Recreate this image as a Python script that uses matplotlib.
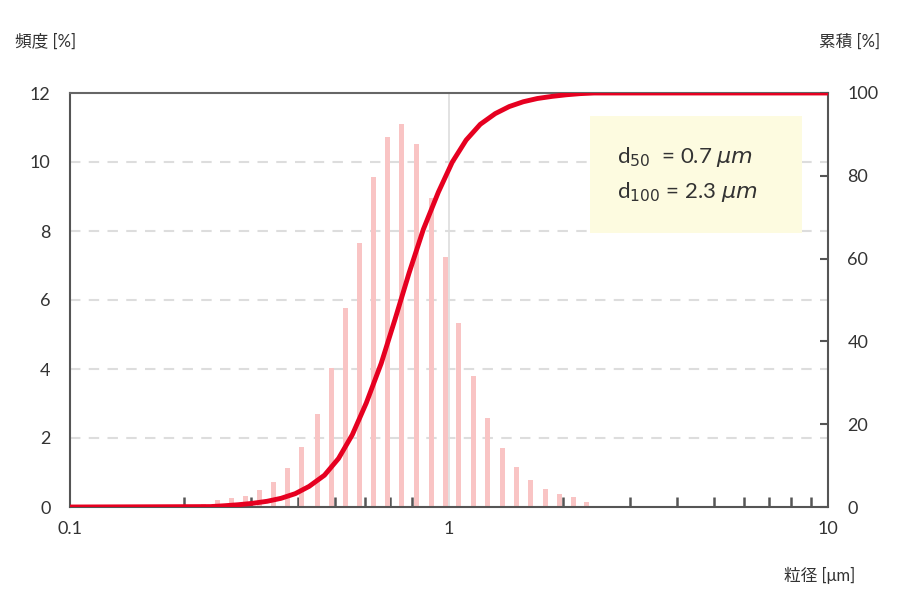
import numpy as np
import matplotlib
matplotlib.use("Agg")
import matplotlib.pyplot as plt

sizes = [0.2245, 0.2443, 0.266, 0.2897, 0.317, 0.345, 0.376, 0.409, 0.449, 0.489, 0.532, 0.579,
         0.634, 0.690, 0.751, 0.819, 0.897, 0.976, 1.062, 1.157, 1.267, 1.380, 1.503, 1.637,
         1.792, 1.951, 2.125, 2.31]
freq = [0.1, 0.2, 0.25, 0.33, 0.5, 0.72, 1.12, 1.75, 2.7, 4.03, 5.77, 7.65, 9.57, 10.73, 11.1,
        10.52, 8.96, 7.25, 5.33, 3.8, 2.58, 1.71, 1.16, 0.78, 0.52, 0.38, 0.28, 0.15]

plt.rcParams['font.family'] = ['Lato', 'Noto Sans CJK JP', 'DejaVu Sans']
fig = plt.figure(figsize=(9, 6.16), dpi=100)
ax = fig.add_axes([70/900, 109/616, 758/900, 414/616])
s = np.array(sizes); f = np.array(freq)
half = 10**0.0066
ax.bar(s/half, f, width=s*half - s/half, align='edge', color='#f9c4c4', zorder=2)
ax.set_xscale('log')
ax.set_xlim(0.1, 10)
ax.set_ylim(0, 12)
ax.set_yticks(range(0, 13, 2))
for y in range(2, 12, 2):
    ax.axhline(y, color='#dddddd', lw=1.5, ls=(0, (5, 4)), zorder=1)
ax.axvline(1, color='#dddddd', lw=1.2, zorder=1)
ax.set_xticks([0.1, 1, 10]); ax.set_xticklabels(['0.1', '1', '10'])
ax.set_xticks([m*d for d in (0.1, 1) for m in range(2, 10)], minor=True)
ax.tick_params(axis='x', which='minor', direction='in', length=7, width=1.8, color='#555555', labelbottom=False)
ax.tick_params(axis='x', which='major', length=0, pad=10, labelsize=13, colors='#333333')
ax.tick_params(axis='y', length=0, pad=14, labelsize=13, colors='#333333')
for sp in ax.spines.values():
    sp.set_color('#555555'); sp.set_linewidth(1.5)
ax.spines['right'].set_visible(False)
ax.spines['top'].set_color('#666666')

ax2 = ax.twinx()
ax2.set_ylim(0, 100)
ax2.set_yticks(range(0, 101, 20))
ax2.tick_params(axis='y', direction='in', length=6, width=1.5, color='#555555', pad=14, labelsize=13, labelcolor='#333333')
for sp in ax2.spines.values():
    sp.set_visible(False)
ax2.spines['right'].set_visible(True); ax2.spines['right'].set_color('#555555'); ax2.spines['right'].set_linewidth(1.5)
cum = np.cumsum(f); cum = cum / cum[-1] * 100
cx = np.concatenate([[0.1], s*1.045, [10]])
cy = np.concatenate([[0], cum, [100]])
ax2.plot(cx, cy, color='#e60020', lw=3.5, zorder=5, solid_capstyle='butt')

fig.patches.append(plt.Rectangle((590/900, 1-233/616), 212/900, 117/616, transform=fig.transFigure,
                                 facecolor='#fdfbe0', edgecolor='none', zorder=10))
fig.text(617/900, 1-157/616, r'd$_{50}$  = 0.7 $\mu m$', fontsize=16, color='#333333', va='center', zorder=11)
fig.text(617/900, 1-192/616, r'd$_{100}$ = 2.3 $\mu m$', fontsize=16, color='#333333', va='center', zorder=11)
fig.text(15/900, 1-42/616, '頻度 [%]', fontsize=12, color='#333333', va='center')
fig.text(880/900, 1-42/616, '累積 [%]', fontsize=12, color='#333333', va='center', ha='right')
fig.text(855/900, 1-575/616, '粒径 [μm]', fontsize=12, color='#333333', va='center', ha='right')
fig.savefig('out.png')
